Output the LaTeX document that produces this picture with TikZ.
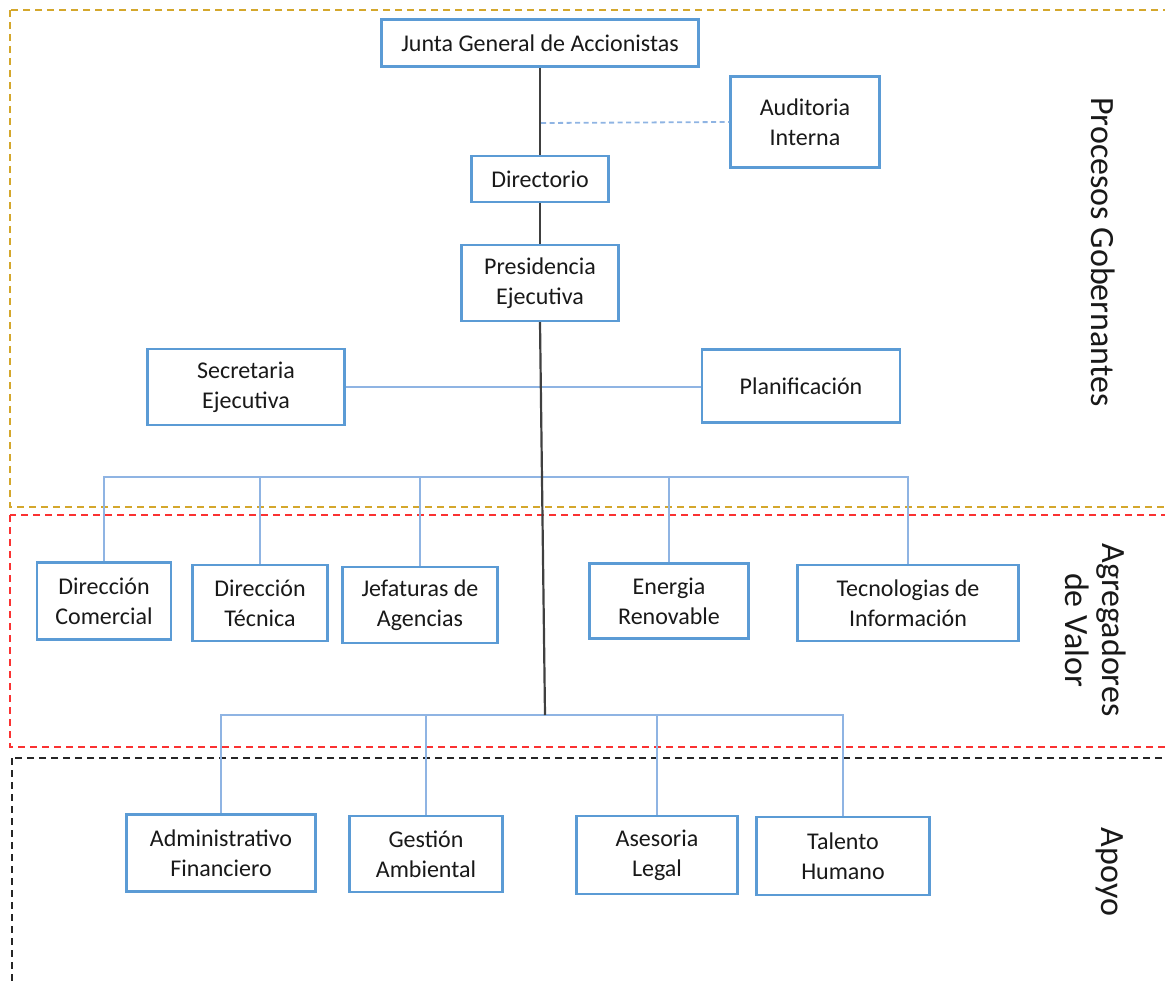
\documentclass[tikz,border=0pt]{standalone}
\usepackage{fontspec}
\setmainfont{Carlito}
\usetikzlibrary{positioning}

\definecolor{boxblue}{RGB}{91,155,213}
\definecolor{lineblue}{RGB}{143,180,227}
\definecolor{gold}{RGB}{212,167,44}
\definecolor{dashred}{RGB}{250,50,50}

\begin{document}
\begin{tikzpicture}[
    x=1pt, y=-1pt,
    font=\fontsize{24}{30}\selectfont,
    % Styles
    unit/.style={draw=boxblue, line width=2.2pt, fill=white, align=center, inner sep=0pt, text=black!90},
    link/.style={draw=lineblue, line width=2.4pt},
    spine/.style={draw=black!75, line width=2.2pt},
    zone/.style={line width=2.5pt, dash pattern=on 7pt off 5pt},
    side/.style={rotate=-90, align=center, text=black!90, font=\fontsize{34}{37}\selectfont}
]

    \useasboundingbox (0,0) rectangle (1165,985);
    \clip (0,0) rectangle (1165,985);

    % --- ZONES ---
    \draw[zone, gold] (10,10) rectangle (1185,507);
    \draw[zone, dashred] (10,515) rectangle (1185,747);
    \draw[zone, black!85] (12,758) rectangle (1185,1000);

    \node[side] (gob) at (1103,252) {Procesos Gobernantes};
    \node[side] (agr) at (1096,630) {Agregadores\\de Valor};
    \node[side] (apo) at (1110,872) {Apoyo};

    % --- GOVERNANCE ---
    \node[unit, minimum width=317pt, minimum height=47pt] (junta) at (540,43) {Junta General de Accionistas};
    \node[unit, minimum width=149pt, minimum height=91pt] (aud) at (805,122) {Auditoria\\Interna};
    \node[unit, minimum width=137pt, minimum height=46pt] (dir) at (540,179) {Directorio};
    \node[unit, minimum width=157pt, minimum height=76pt] (pres) at (540,283) {Presidencia\\Ejecutiva};
    \node[unit, minimum width=197pt, minimum height=76pt] (secr) at (246,387) {Secretaria\\Ejecutiva};
    \node[unit, minimum width=198pt, minimum height=73pt] (plan) at (801,386) {Planificación};

    % --- VALUE ---
    \node[unit, minimum width=134pt, minimum height=77pt] (dcom) at (104,601) {Dirección\\Comercial};
    \node[unit, minimum width=135pt, minimum height=76pt] (dtec) at (260,603) {Dirección\\Técnica};
    \node[unit, minimum width=155pt, minimum height=76pt] (jage) at (420,605) {Jefaturas de\\Agencias};
    \node[unit, minimum width=159pt, minimum height=75pt] (ener) at (669,601) {Energia\\Renovable};
    \node[unit, minimum width=221pt, minimum height=76pt] (tinf) at (908,603) {Tecnologias de\\Información};

    % --- SUPPORT ---
    \node[unit, minimum width=189pt, minimum height=77pt] (admf) at (221,853) {Administrativo\\Financiero};
    \node[unit, minimum width=153pt, minimum height=76pt] (gamb) at (426,854) {Gestión\\Ambiental};
    \node[unit, minimum width=161pt, minimum height=78pt] (aseg) at (657,855) {Asesoria\\Legal};
    \node[unit, minimum width=173pt, minimum height=78pt] (talh) at (843,856) {Talento\\Humano};

    % Connectors
    \coordinate (audj) at (541,123);
    \coordinate (bus1) at (543,477);
    \coordinate (hub2) at (545,715);

    \draw[link, line width=1.8pt, dash pattern=on 5pt off 3.5pt] (audj) -- (aud.west);
    \draw[link] (secr.east) -- (secr.east -| plan.west);

    \draw[link] (dcom.north) |- (bus1) -| (tinf.north);
    \foreach \n in {dtec, jage, ener}
        \draw[link] (\n.north) -- (\n.north |- bus1);

    \draw[link] (admf.north) |- (hub2) -| (talh.north);
    \foreach \n in {gamb, aseg}
        \draw[link] (\n.north) -- (\n.north |- hub2);

    \draw[spine] (junta) -- (dir);
    \draw[spine] (dir) -- (pres);
    \draw[spine] (pres.south) -- (hub2);

\end{tikzpicture}
\end{document}
